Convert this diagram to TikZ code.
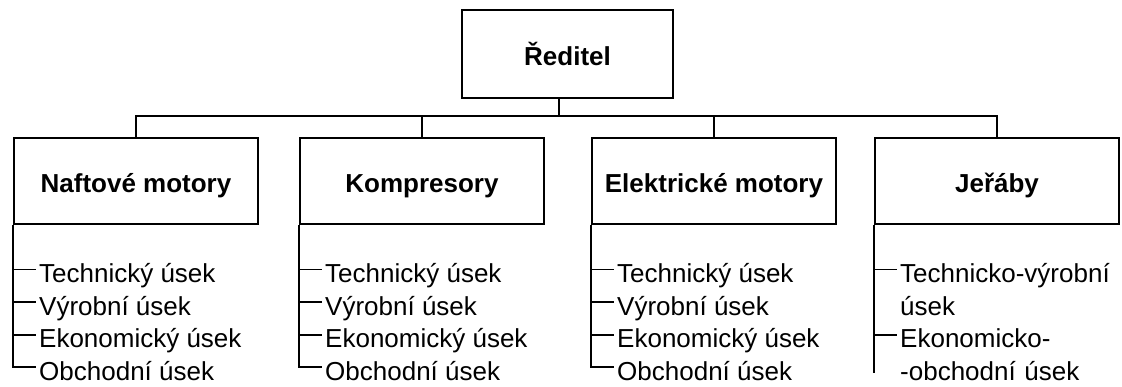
\documentclass[tikz,border=0pt]{standalone}
\usepackage{fontspec}
\setmainfont{Liberation Sans}
\usetikzlibrary{calc}

\tikzset{
  wire/.style={line width=1.7pt, black},
  unitbox/.style={draw, line width=1.7pt, inner sep=0pt,
    minimum width=244pt, minimum height=86pt,
    text height=24pt, text depth=0pt,
    font=\fontsize{26}{30}\selectfont\bfseries},
  item/.style={anchor=base west, inner sep=0pt,
    font=\fontsize{26}{32.6}\selectfont},
  itemwrap/.style={item, text width=222pt, align=left},
}

\begin{document}
\begin{tikzpicture}[x=1pt, y=-1pt]
  \useasboundingbox (0,0) rectangle (1122,387);
  \fill[white] (0,0) rectangle (1122,387);

  % top of the hierarchy
  \node[unitbox, minimum width=211pt, minimum height=88pt] (red) at (567.5,54) {Ředitel};

  % divisions
  \node[unitbox] (naf) at (136,181) {Naftové motory};
  \node[unitbox] (kom) at (422,181) {Kompresory};
  \node[unitbox] (ele) at (714,181) {Elektrické motory};
  \node[unitbox] (jer) at (997,181) {Jeřáby};

  % distribution bus
  \coordinate (bus) at (0,116);
  \draw[wire] ([xshift=-8.5pt]red.south) -- ([xshift=-8.5pt]red.south |- bus);
  \draw[wire] (naf.north) -- (naf.north |- bus) -- (jer.north |- bus) -- (jer.north);
  \draw[wire] (kom.north) -- (kom.north |- bus);
  \draw[wire] (ele.north) -- (ele.north |- bus);

  % departments of each division
  \foreach \col/\x in {naf/14, kom/300, ele/592} {
    \node[item] (\col1) at (\x+25,282.5) {Technický úsek};
    \node[item] (\col2) at (\x+25,315.1) {Výrobní úsek};
    \node[item] (\col3) at (\x+25,347.7) {Ekonomický úsek};
    \node[item] (\col4) at (\x+25,380.3) {Obchodní úsek};
    \foreach \k in {1,...,4}
      \draw[wire] (\col.south west) |- ([shift={(-3.5pt,13pt)}]\col\k.base west);
  }

  \node[itemwrap] (jer1) at (900,282.5) {Technicko-výrobní\\úsek};
  \node[itemwrap] (jer2) at (900,347.7) {Ekonomicko-\\-obchodní úsek};
  \coordinate (jerend) at (875,373);
  \draw[wire] (jer.south west) -- (jer.south west |- jerend);
  \foreach \k in {1,2}
    \draw[wire] (jer.south west) |- ([shift={(-3.5pt,13pt)}]jer\k.base west);
\end{tikzpicture}
\end{document}
